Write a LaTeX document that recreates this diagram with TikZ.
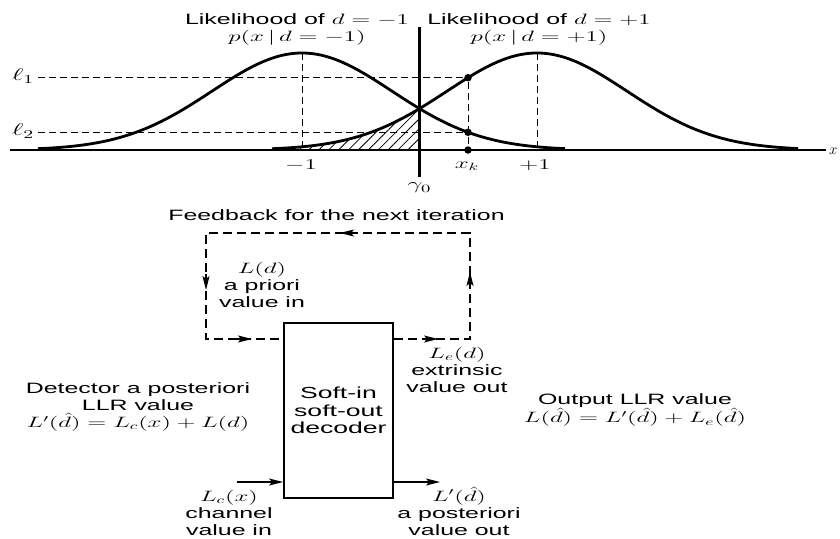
\RequirePackage{fix-cm}
\documentclass[tikz,border=0pt]{standalone}
\usepackage{fontspec}
\setmainfont{Liberation Sans}
\usepackage{graphicx}
\usetikzlibrary{arrows.meta,patterns.meta}
\newcommand{\sx}[1]{\scalebox{1.66}[1]{#1}}
\begin{document}
\begin{tikzpicture}[x=1pt,y=-1pt,
  curve/.style={line width=2.8pt},
  guide/.style={dash pattern=on 7pt off 4pt, line width=0.9pt},
  lbl/.style={font=\fontsize{15}{17}\selectfont, align=center, inner sep=0pt},
  boxlbl/.style={font=\fontsize{16}{17.5}\selectfont, align=center, inner sep=0pt},
  dot/.style={circle, fill=black, inner sep=0pt, minimum size=7.5pt},
  fb/.style={dash pattern=on 9pt off 5pt, line width=1.4pt},
  tip/.style={arrows={-Stealth[length=14pt,width=7pt,inset=3pt]}},
  io/.style={line width=1.4pt},
  fbtip/.style={solid, line width=1.4pt, arrows={-Stealth[length=14pt,width=7pt,inset=3pt]}}
]
\useasboundingbox (0,0) rectangle (840,538);

% ---------- upper graph ----------
\coordinate (ax0) at (10,150);
\coordinate (ax1) at (826,150);
\draw[line width=1.2pt] (ax0) -- (ax1);
\node[lbl, anchor=west] (xlab) at (829,151) {$x$};

% hatched tail
\fill[pattern={Lines[angle=45,distance=7pt,line width=0.8pt]}]
  plot[domain=272:419.5,samples=60] (\x,{150-97*exp(-0.5*((\x-537)/90)^2)}) -- (419.5,150) -- cycle;

% gaussians
\draw[curve] plot[domain=38:565,samples=120] (\x,{150-97*exp(-0.5*((\x-302)/90)^2)});
\draw[curve] plot[domain=272:798,samples=120] (\x,{150-97*exp(-0.5*((\x-537)/90)^2)});

% threshold line
\coordinate (g0t) at (419.5,27);
\coordinate (g0b) at (419.5,177);
\draw[line width=2.2pt] (g0t) -- (g0b);
\node[lbl, font=\fontsize{16}{17}\selectfont] (g0lab) at (419.5,188) {\sx{$\gamma_0$}};

% points at x_k
\node[dot] (d1) at (468,77.7) {};
\node[dot] (d2) at (468,132.3) {};
\node[dot] (d3) at (468,150) {};

% levels
\node[lbl, font=\fontsize{17}{17}\selectfont] (l1lab) at (23,76) {\sx{$\ell_1$}};
\node[lbl, font=\fontsize{17}{17}\selectfont] (l2lab) at (23,131) {\sx{$\ell_2$}};
\coordinate (l1s) at (38,77.7);
\coordinate (l2s) at (38,132.3);
\draw[guide] (l1s) -- (d1);
\draw[guide] (l2s) -- (d2);
\draw[guide] (d1) -- (d3);

% peaks
\coordinate (pkL) at (302,53);
\coordinate (axL) at (302,150);
\coordinate (pkR) at (537,53);
\coordinate (axR) at (537,150);
\draw[guide] (pkL) -- (axL);
\draw[guide] (pkR) -- (axR);

\node[lbl] (m1) at (301,165) {\sx{$-1$}};
\node[lbl] (p1) at (535,165) {\sx{$+1$}};
\node[lbl] (xk) at (467,166) {\sx{$x_k$}};

\node[lbl] (likL) at (297,29.5) {\sx{Likelihood of $d=-1$}\\\sx{$p(x\,|\,d=-1)$}};
\node[lbl] (likR) at (539,29.5) {\sx{Likelihood of $d=+1$}\\\sx{$p(x\,|\,d=+1)$}};

% ---------- decoder ----------
\node[draw, line width=1.8pt, minimum width=109pt, minimum height=175pt, inner sep=0pt, boxlbl] (dec) at (338.5,410.5)
  {\sx{Soft-in}\\\sx{soft-out}\\\sx{decoder}};

\node[lbl] (fbtxt) at (336.5,215) {\sx{Feedback for the next iteration}};

\coordinate (fbA) at (470,339);
\coordinate (fbB) at (470,233);
\coordinate (fbC) at (206,233);
\coordinate (fbD) at (206,339);
\draw[fb] (dec.east |- fbA) -- (fbA) -- (fbB) -- (fbC) -- (fbD) -- (fbD -| dec.west);

% arrowheads on the feedback loop
\coordinate (a1) at (438,339);
\coordinate (a2) at (470,272);
\coordinate (a3) at (340,233);
\coordinate (a4) at (206,290);
\coordinate (a5) at (252,339);
\draw[fbtip] ([xshift=-16pt]a1) -- (a1);
\draw[fbtip] ([yshift=-16pt]a2) -- (a2);
\draw[fbtip] ([xshift=16pt]a3) -- (a3);
\draw[fbtip] ([yshift=16pt]a4) -- (a4);
\draw[fbtip] ([xshift=-16pt]a5) -- (a5);

\coordinate (inL) at (237,482);
\coordinate (outR) at (440,482);
\draw[io, tip] (inL) -- (inL -| dec.west);
\draw[io, tip] (outR -| dec.east) -- (outR);

\node[lbl] (ldin) at (262,285) {\sx{$L(d)$}\\\sx{a priori}\\\sx{value in}};
\node[lbl] (lein) at (457,370) {\sx{$L_e(d)$}\\\sx{extrinsic}\\\sx{value out}};
\node[lbl] (det) at (138,407) {\sx{Detector a posteriori}\\\sx{LLR value}\\\sx{$L'(\hat{d})=L_c(x)+L(d)$}};
\node[lbl] (outllr) at (635,410) {\sx{Output LLR value}\\\sx{$L(\hat{d})=L'(\hat{d})+L_e(\hat{d})$}};
\node[lbl] (lcx) at (229,513) {\sx{$L_c(x)$}\\\sx{channel}\\\sx{value in}};
\node[lbl] (lpost) at (459,511) {\sx{$L'(\hat{d})$}\\\sx{a posteriori}\\\sx{value out}};
\end{tikzpicture}
\end{document}
